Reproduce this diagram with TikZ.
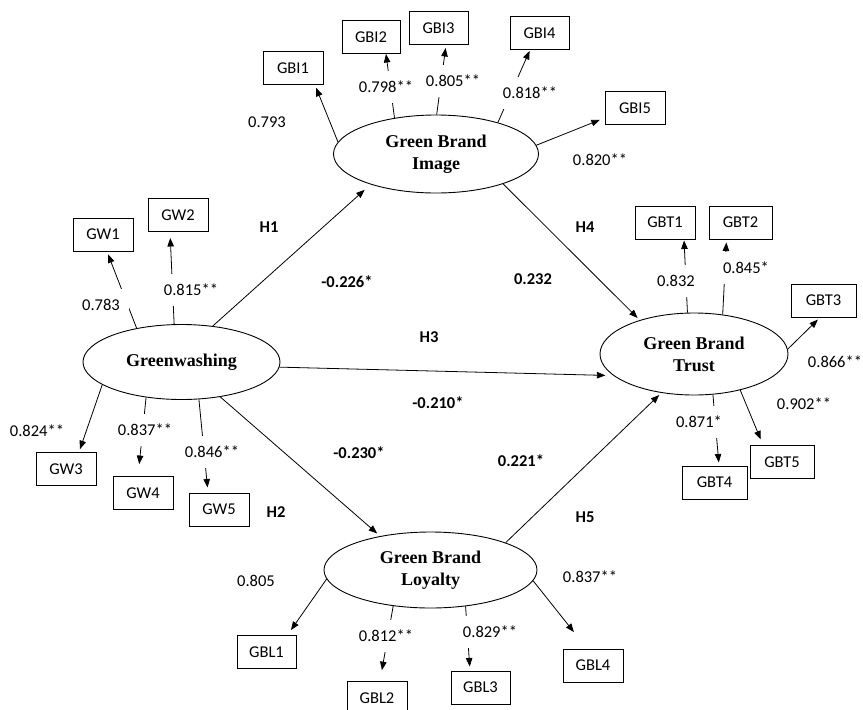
\documentclass[tikz,border=0pt]{standalone}
\usepackage{fontspec}
\setmainfont{Carlito}
\newfontfamily\latentfont{Liberation Serif}
\usetikzlibrary{shapes.geometric,arrows.meta}

\begin{document}
\begin{tikzpicture}
[x=1pt,y=-1pt,%
  latentDecorate/.style={shape=ellipse,draw,line width=0.9pt,inner sep=0pt,align=center,%
    font=\latentfont\bfseries\fontsize{18}{22}\selectfont},%
  boxDecorate/.style={shape=rectangle,draw,line width=1pt,minimum height=33pt,inner sep=0pt,%
    font=\fontsize{16.5}{20}\selectfont},%
  lineDecorate/.style={-{Triangle[length=8.5pt,width=6.5pt]},line width=0.8pt},%
  loadLabel/.style={fill=white,inner xsep=9pt,inner ysep=10pt,font=\fontsize{16.5}{20}\selectfont},%
  pathLabel/.style={inner sep=2pt,font=\bfseries\fontsize{16.5}{20}\selectfont}]
\useasboundingbox (0,0) rectangle (863,710);
%% latent variables
\node (GW) at (181.5,362) [latentDecorate,minimum width=197pt,minimum height=75pt] {Greenwashing};
\node (GBI) at (436,154) [latentDecorate,minimum width=205pt,minimum height=78pt] {Green Brand\\Image};
\node (GBT) at (694,354) [latentDecorate,minimum width=188pt,minimum height=82pt] {Green Brand\\Trust};
\node (GBL) at (430.5,570) [latentDecorate,minimum width=213pt,minimum height=76pt] {Green Brand\\Loyalty};
%% indicators
\foreach \nodename/\x/\y/\w in {
  GBI1/293/68/60pt, GBI2/371/37/58pt, GBI3/438.5/28/59pt, GBI4/539.5/33/59pt, GBI5/635/108/60pt,
  GW1/103/234.5/60pt, GW2/178/215/60pt, GW3/66/469/60pt, GW4/143/493/60pt, GW5/219/509.5/60pt,
  GBT1/665/222.5/60pt, GBT2/740.5/222.5/63pt, GBT3/823.5/300.5/65pt, GBT4/714.5/482.5/65pt,
  GBT5/782/462/64pt,
  GBL1/266.5/652/59pt, GBL2/377/698/60pt, GBL3/480.5/687.5/59pt, GBL4/593/665.5/60pt}
{
  \node (\nodename) at (\x,\y) [boxDecorate,minimum width=\w] {\nodename};
}
%% loadings
\foreach \latent/\indicator/\dx/\dy/\gap in {
  GBI.173/GBI1.south/22pt/0pt/3pt, GBI.139/GBI2.south/15pt/0pt/0pt,
  GBI.89/GBI3.south/7.5pt/0pt/3pt, GBI.27/GBI4.south/-9.5pt/0pt/1pt,
  GBI.5/GBI5.west/0pt/-10pt/5pt,
  GW.143/GW1.south/4pt/0pt/3pt, GW.101/GW2.south/-8pt/0pt/6pt,
  GW.196/GW3.north/13pt/0pt/3pt, GW.225/GW4.north/-5pt/0pt/12pt,
  GW.295/GW5.north/-11pt/0pt/5pt,
  GBT.99/GBT1.south/19pt/0pt/1pt, GBT.54/GBT2.south/-14pt/0pt/3pt,
  GBT.3/GBT3.south/-3.5pt/0pt/3pt, GBT.295/GBT4.north/4.5pt/0pt/3pt,
  GBT.322/GBT5.north/-19pt/0pt/6pt,
  GBL.185/GBL1.north/21pt/0pt/6pt, GBL.224/GBL2.north/3pt/0pt/11pt,
  GBL.314/GBL3.north/-10.5pt/0pt/4pt, GBL.354/GBL4.north/-6pt/0pt/21pt}
{
  \draw[lineDecorate,shorten >=\gap] (\latent) -- ([xshift=\dx,yshift=\dy]\indicator);
}
%% hypotheses
\draw[lineDecorate,shorten >=8pt] (GW.49) -- (GBI.205);
\draw[lineDecorate,shorten >=4pt] (GW.318) -- (GBL.146);
\draw[lineDecorate,shorten >=8pt] (GW.357) -- (GBT.195);
\draw[lineDecorate,shorten >=3pt] (GBI.336) -- (GBT.148);
\draw[lineDecorate,shorten >=3pt] (GBL.20) -- (GBT.230);
%% loading values
\foreach \nodename/\x/\y/\value in {
  vGBI1/267/122/0.793, vGBI2/386/87/0.798**, vGBI3/453/81/0.805**,
  vGBI4/530/93/0.818**, vGBI5/600/160/0.820**,
  vGW1/101/305/0.783, vGW2/191/290/0.815**, vGW3/37/431/0.824**,
  vGW4/145/430/0.837**, vGW5/212/452/0.846**,
  vGBT1/676/281/0.832, vGBT2/746/268/0.845*, vGBT3/835/362/0.866**,
  vGBT4/699/422/0.871*, vGBT5/804/404/0.902**,
  vGBL1/256/581/0.805, vGBL2/386/636/0.812**, vGBL3/490/632/0.829**,
  vGBL4/590/577/0.837**}
{
  \node (\nodename) at (\x,\y) [loadLabel] {\value};
}
%% path values
\foreach \nodename/\x/\y/\value in {
  H1/269/227/H1, H2/276/512/H2, H3/429/337/H3, H4/585/227/H4, H5/585/517/H5,
  b1/347/282/-0.226*, b2/359/453/-0.230*, b3/438/403/-0.210*,
  b4/533/279/0.232, b5/521/461/0.221*}
{
  \node (\nodename) at (\x,\y) [pathLabel] {\value};
}
\end{tikzpicture}
\end{document}
